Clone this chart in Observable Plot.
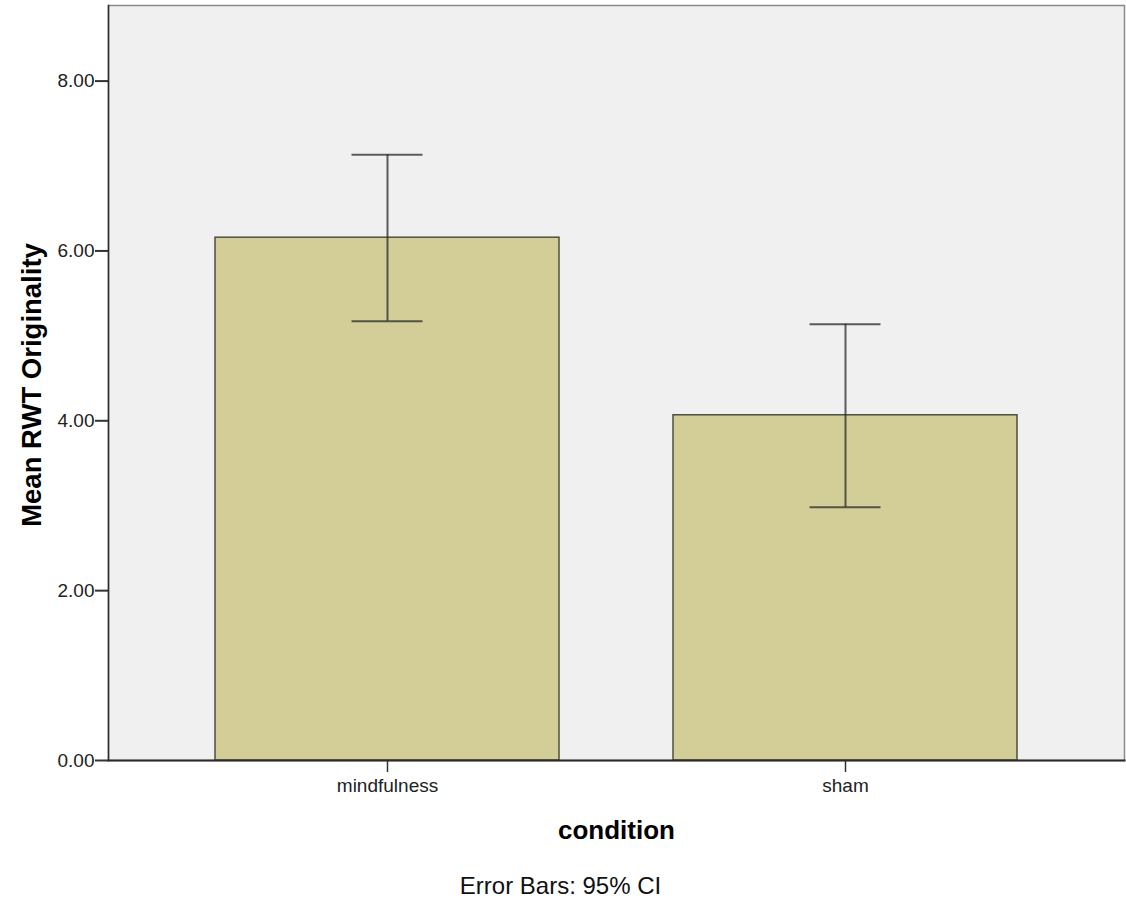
<!DOCTYPE html>
<html>
<head>
<meta charset="utf-8">
<script src="https://cdn.jsdelivr.net/npm/d3@7"></script>
<script src="https://cdn.jsdelivr.net/npm/@observablehq/plot@0.6"></script>
<style>
  html, body { margin: 0; padding: 0; background: #fff; }
  #chart svg { display: block; }
</style>
</head>
<body>
<div id="chart"></div>
<script>
const conditions = ["mindfulness", "sham"];
const means = [6.156, 4.065];
const ciLower = [5.172, 2.981];
const ciUpper = [7.134, 5.137];
const yTicks = [0, 2, 4, 6, 8];
const yMax = 8.89;

const data = conditions.map((c, i) => ({condition: c, mean: means[i], lo: ciLower[i], hi: ciUpper[i]}));

const chart = Plot.plot({
  width: 1126,
  height: 903,
  marginLeft: 108,
  marginRight: 2,
  marginTop: 5,
  marginBottom: 143,
  style: {fontFamily: "'Liberation Sans', Arial, sans-serif", color: "#222", background: "#fff"},
  x: {type: "band", domain: conditions, paddingInner: 0.25, paddingOuter: 0.234},
  y: {domain: [0, yMax]},
  marks: [
    Plot.frame({fill: "#f0f0f0", stroke: "#8a8a8a", strokeWidth: 1.5}),
    Plot.barY(data, {x: "condition", y: "mean", fill: "#d3ce98", stroke: "#4e4e40", strokeWidth: 1.5}),
    Plot.ruleX(data, {x: "condition", y1: "lo", y2: "hi", stroke: "#2a2a2a", strokeWidth: 2, strokeOpacity: 0.75}),
    Plot.tickY(data, {x: "condition", y: "lo", stroke: "#2a2a2a", strokeWidth: 2, strokeOpacity: 0.75, insetLeft: 136.5, insetRight: 136.5}),
    Plot.tickY(data, {x: "condition", y: "hi", stroke: "#2a2a2a", strokeWidth: 2, strokeOpacity: 0.75, insetLeft: 136.5, insetRight: 136.5}),
    Plot.axisY({ticks: yTicks, tickFormat: d3.format(".2f"), tickSize: 13, tickPadding: 1, fontSize: 19, label: null, stroke: "#333", strokeWidth: 2}),
    Plot.axisX({tickSize: 12, tickPadding: 6, fontSize: 19, label: null, stroke: "#333", strokeWidth: 1.5}),
    Plot.frame({anchor: "left", stroke: "#2a2a2a", strokeWidth: 1.5}),
    Plot.frame({anchor: "bottom", stroke: "#2a2a2a", strokeWidth: 2}),
    Plot.text(["Mean RWT Originality"], {frameAnchor: "left", textAnchor: "middle", lineAnchor: "middle", rotate: -90, dx: -76, dy: 2, fontSize: 27.5, fontWeight: "bold", fill: "#000"}),
    Plot.text(["condition"], {frameAnchor: "bottom", textAnchor: "middle", lineAnchor: "middle", dy: 70, fontSize: 26, fontWeight: "bold", fill: "#000"}),
    Plot.text(["Error Bars: 95% CI"], {frameAnchor: "bottom", textAnchor: "middle", lineAnchor: "middle", dy: 126, dx: -56, fontSize: 24, fill: "#111"})
  ]
});
document.getElementById("chart").append(chart);
</script>
</body>
</html>
